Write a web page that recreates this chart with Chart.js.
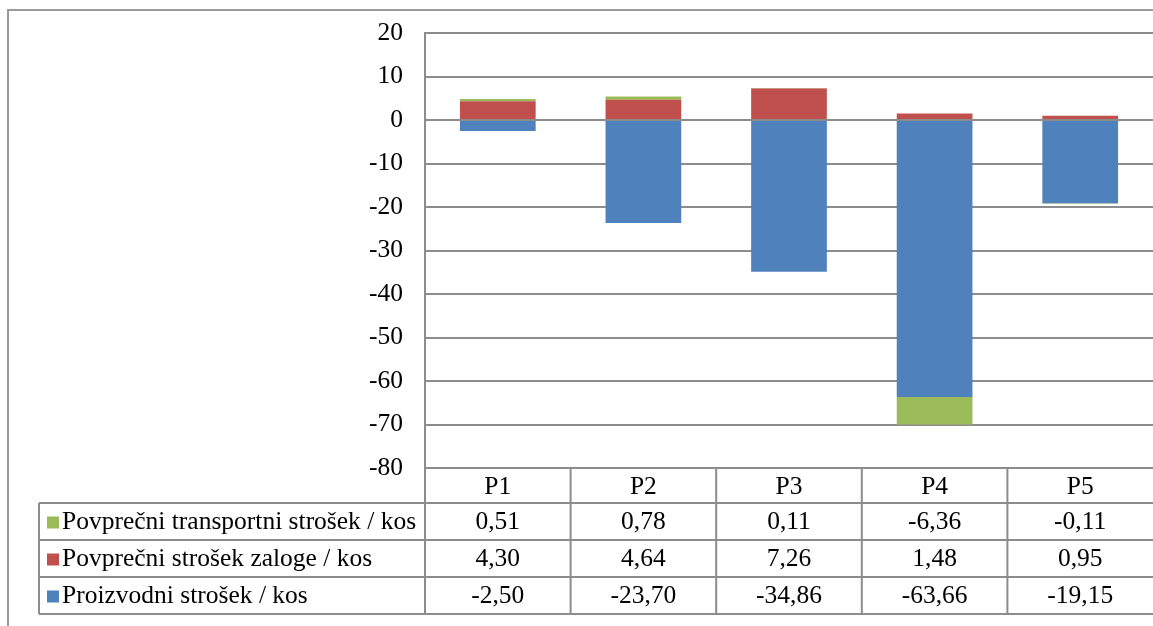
<!DOCTYPE html>
<html>
<head>
<meta charset="utf-8">
<script src="https://cdn.jsdelivr.net/npm/chart.js@4.4.1/dist/chart.umd.min.js"></script>
<style>
  html, body { margin: 0; padding: 0; background: #ffffff; }
  #wrap { position: absolute; left: 0; top: 0; width: 1153px; height: 626px; }
</style>
</head>
<body>
<div id="wrap"><canvas id="c" width="1153" height="626"></canvas></div>
<script>
// Categories and cost series per piece (EUR / kos)
const categories = ['P1', 'P2', 'P3', 'P4', 'P5'];
const productionCost = [-2.50, -23.70, -34.86, -63.66, -19.15];
const stockCost = [4.30, 4.64, 7.26, 1.48, 0.95];
const transportCost = [0.51, 0.78, 0.11, -6.36, -0.11];

const seriesNames = {
  production: 'Proizvodni strošek / kos',
  stock: 'Povprečni strošek zaloge / kos',
  transport: 'Povprečni transportni strošek / kos'
};

const yTicks = { min: -80, max: 20, step: 10 };

const COLORS = { blue: '#4F81BD', red: '#C0504D', green: '#9BBB59', grid: '#8c8c8c', frame: '#9a9a9a' };
const FONT = '"Liberation Serif", "Times New Roman", serif';
const FONT_SIZE = 25.5;

const fmt = v => v.toFixed(2).replace('.', ',');

// Rows of the data table under the plot, top to bottom
const tableRows = [
  { name: seriesNames.transport, color: COLORS.green, values: transportCost },
  { name: seriesNames.stock, color: COLORS.red, values: stockCost },
  { name: seriesNames.production, color: COLORS.blue, values: productionCost }
];

// Outer frame, then the data table with legend keys
const tablePlugin = {
  id: 'dataTable',
  beforeDraw(chart) {
    const ctx = chart.ctx;
    ctx.save();
    ctx.strokeStyle = COLORS.frame;
    ctx.lineWidth = 2;
    ctx.beginPath();
    ctx.moveTo(8, 626);
    ctx.lineTo(8, 10);
    ctx.lineTo(1153, 10);
    ctx.stroke();
    ctx.restore();
  },
  afterDraw(chart) {
    const ctx = chart.ctx;
    const area = chart.chartArea;
    const xs = chart.scales.x;
    const colW = (area.right - area.left) / categories.length;
    const headerTop = area.bottom;
    const headerBottom = headerTop + 35;
    const rowH = 37;
    const tableLeft = 39;
    const tableBottom = headerBottom + rowH * tableRows.length;

    ctx.save();
    ctx.strokeStyle = COLORS.grid;
    ctx.lineWidth = 2;
    ctx.beginPath();
    // horizontal lines
    ctx.moveTo(area.left, headerTop); ctx.lineTo(area.right, headerTop);
    for (let i = 0; i <= tableRows.length; i++) {
      const y = headerBottom + rowH * i;
      ctx.moveTo(tableLeft, y); ctx.lineTo(area.right, y);
    }
    // vertical lines
    ctx.moveTo(tableLeft, headerBottom); ctx.lineTo(tableLeft, tableBottom);
    for (let i = 0; i < categories.length; i++) {
      const x = area.left + colW * i;
      ctx.moveTo(x, headerTop); ctx.lineTo(x, tableBottom);
    }
    ctx.stroke();

    ctx.fillStyle = '#000';
    ctx.font = FONT_SIZE + 'px ' + FONT;
    ctx.textBaseline = 'middle';
    ctx.textAlign = 'center';
    categories.forEach((c, i) => {
      ctx.fillText(c, xs.getPixelForValue(i), (headerTop + headerBottom) / 2 + 2);
    });
    tableRows.forEach((row, r) => {
      const cy = headerBottom + rowH * r + rowH / 2 + 1;
      ctx.fillStyle = row.color;
      ctx.fillRect(tableLeft + 8, cy - 6, 12, 12);
      ctx.fillStyle = '#000';
      ctx.textAlign = 'left';
      ctx.fillText(row.name, tableLeft + 23, cy);
      ctx.textAlign = 'center';
      row.values.forEach((v, i) => {
        ctx.fillText(fmt(v), xs.getPixelForValue(i), cy);
      });
    });
    ctx.restore();
  }
};

new Chart(document.getElementById('c'), {
  type: 'bar',
  data: {
    labels: categories,
    datasets: [
      { label: seriesNames.production, data: productionCost, backgroundColor: COLORS.blue },
      { label: seriesNames.stock, data: stockCost, backgroundColor: COLORS.red },
      { label: seriesNames.transport, data: transportCost, backgroundColor: COLORS.green }
    ]
  },
  options: {
    responsive: false,
    animation: false,
    devicePixelRatio: 1,
    layout: { padding: { top: 33, bottom: 158, left: 0, right: 0 } },
    datasets: { bar: { categoryPercentage: 1, barPercentage: 0.52 } },
    plugins: { legend: { display: false }, tooltip: { enabled: false } },
    scales: {
      x: { stacked: true, display: false },
      y: {
        stacked: true,
        min: yTicks.min,
        max: yTicks.max,
        ticks: {
          stepSize: yTicks.step,
          color: '#000',
          padding: 22,
          font: { family: FONT, size: FONT_SIZE, lineHeight: 1 }
        },
        grid: { color: COLORS.grid, lineWidth: 2, drawTicks: false },
        border: { display: true, color: COLORS.grid, width: 2 },
        afterFit(scale) {
          scale.width = 425;
          scale.paddingTop = 0;
          scale.paddingBottom = 0;
        }
      }
    }
  },
  plugins: [tablePlugin]
});
</script>
</body>
</html>
